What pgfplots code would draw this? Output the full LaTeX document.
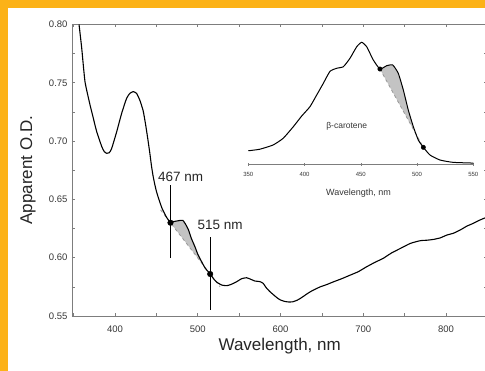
\documentclass[border=0pt]{standalone}
\usepackage{fontspec}
\setmainfont{Liberation Sans}
\usepackage{pgfplots}
\pgfplotsset{compat=1.18}
\definecolor{bgorange}{RGB}{252,178,23}
\definecolor{axgray}{RGB}{125,125,125}
\definecolor{txtgray}{RGB}{55,55,55}
\definecolor{shade}{RGB}{195,195,195}
\begin{document}
\begin{tikzpicture}[x=1pt,y=1pt]
\path[use as bounding box] (0,0) rectangle (485,371);
\fill[bgorange] (0,0) rectangle (485,371);
\fill[white] (8,0) rectangle (485,363);
\begin{scope}
\clip (8,0) rectangle (485,363);
% ---------------- main axis ----------------
\begin{axis}[at={(72pt,55pt)}, anchor=south west, scale only axis,
  width=415.4pt, height=291.5pt,
  xmin=348, xmax=850, ymin=0.55, ymax=0.80,
  xtick={400,500,600,700,800}, minor xtick={350,450,550,650,750,850},
  ytick={0.55,0.6,0.65,0.7,0.75,0.8}, minor ytick={0.575,0.625,0.675,0.725,0.775},
  tick align=inside, major tick length=3pt, minor tick length=3pt,
  axis line style={axgray, line width=0.8pt},
  every tick/.style={axgray, line width=0.6pt},
  scaled y ticks=false,
  /pgf/number format/assume math mode=true,
  yticklabel style={/pgf/number format/fixed, /pgf/number format/fixed zerofill, /pgf/number format/precision=2, xshift=-1pt},
  xticklabel style={yshift=-6pt},
  ticklabel style={font=\fontsize{9.5}{10}\selectfont, text=txtgray},
  xlabel={Wavelength, nm}, ylabel={Apparent O.D.},
  xlabel style={font=\fontsize{17}{20}\selectfont, text=black!85, at={(axis description cs:0.5,-0.102)}, anchor=center},
  ylabel style={font=\fontsize{17}{20}\selectfont, text=black!85, at={(axis description cs:-0.106,0.5)}, anchor=center, rotate=0},
  clip=true,
]
% shaded area between curve and chord
\addplot[fill=shade, draw=none] coordinates {
(467,0.630) (471,0.631) (475,0.6315) (479,0.632) (482,0.632) (485,0.629) (488.7,0.624) (492,0.617) (496.8,0.609) (500,0.603) (504.7,0.5965) (509,0.591) (515,0.586)
} -- cycle;
% dashed baseline
\addplot[gray!80, dashed, line width=0.8pt] coordinates {(455,0.641) (527,0.575)};
% spectrum
\addplot[black, line width=1.1pt, smooth, tension=0.3] coordinates {
(356.5,0.800) (359.7,0.780) (363.7,0.751) (369.8,0.731) (373.8,0.7195) (377.9,0.708) (384,0.6952) (387,0.691) (390,0.6895) (393,0.690) (396,0.6938)
(402,0.708) (408,0.7238) (414,0.7367) (418,0.741) (422,0.7424) (426,0.741) (430,0.735) (434,0.726) (437,0.714) (440,0.700) (442,0.690)
(444,0.679) (446,0.670) (448,0.663) (450,0.657) (453,0.650) (457,0.642) (462,0.635) (467,0.630)
(471,0.631) (475,0.6315) (479,0.632) (482,0.632) (485,0.629) (488.7,0.624) (492,0.617) (496.8,0.609) (500,0.603) (504.7,0.5965) (509,0.591) (515,0.586)
(519,0.582) (523,0.579) (529,0.5765) (535,0.576) (540,0.577) (547,0.5794) (553,0.582) (559,0.5828) (564,0.5815) (569,0.580) (575,0.5795) (579,0.578)
(583,0.574) (587,0.571) (591,0.5685) (596,0.5655) (600,0.5637) (605,0.5625) (610,0.562) (615,0.5622) (620,0.5635) (624,0.5651) (630,0.568) (636,0.5708)
(642,0.573) (648,0.575) (656,0.577) (664,0.5793) (674,0.582) (684,0.585) (694,0.588) (704,0.5922) (714,0.596) (724,0.5994) (734,0.604) (745,0.608)
(757,0.6123) (769,0.6146) (777,0.615) (785,0.6157) (793,0.617) (801,0.6194) (809,0.621) (817,0.6237) (825,0.627) (833,0.6295) (840,0.632) (850,0.635)
};
% vertical markers
\addplot[black, line width=0.9pt] coordinates {(467,0.5996) (467,0.6623)};
\addplot[black, line width=0.9pt] coordinates {(515,0.5553) (515,0.6180)};
% dots
\addplot[only marks, mark=*, mark size=2.8pt, black] coordinates {(467,0.630) (515,0.586)};
\node[font=\fontsize{13.5}{15}\selectfont, text=black!85] at (axis cs:479.4,0.6695) {467 nm};
\node[font=\fontsize{13.5}{15}\selectfont, text=black!85] at (axis cs:526.9,0.628) {515 nm};
\end{axis}
% ---------------- inset ----------------
\begin{axis}[at={(248.3pt,206.7pt)}, anchor=south west, scale only axis,
  width=225pt, height=122pt,
  xmin=350, xmax=550, ymin=0, ymax=1.0,
  axis x line*=bottom, axis y line=none,
  xtick={350,400,450,500,550},
  tick align=center, major tick length=3pt,
  axis line style={axgray, line width=0.8pt},
  every tick/.style={axgray, line width=0.6pt},
  /pgf/number format/assume math mode=true,
  ticklabel style={font=\fontsize{6}{7}\selectfont, text=txtgray},
  xticklabel style={yshift=-3pt},
  xlabel={Wavelength, nm},
  xlabel style={font=\fontsize{9}{10}\selectfont, text=txtgray, at={(axis description cs:0.49,-0.235)}, anchor=center},
  clip=false,
]
\addplot[fill=shade, draw=none] coordinates {
(467,0.781) (473,0.808) (478.4,0.814) (483.3,0.746) (487.8,0.609) (492.2,0.445) (496.7,0.308) (501.1,0.199) (505.6,0.139)
} -- cycle;
\addplot[gray!80, dashed, line width=0.8pt] coordinates {(467,0.781) (505.6,0.139)};
\addplot[black, line width=1.0pt, smooth, tension=0.3] coordinates {
(350,0.111) (360,0.123) (372,0.158) (381,0.213) (390,0.308) (397.5,0.396) (404.8,0.472) (410.8,0.568) (416.7,0.664) (422.6,0.762)
(428.6,0.787) (434.5,0.800) (440.4,0.869) (446.4,0.964) (450.8,1.0) (455.2,0.964) (461.1,0.855) (467,0.781) (473,0.808) (478.4,0.814)
(483.3,0.746) (487.8,0.609) (492.2,0.445) (496.7,0.308) (501.1,0.199) (505.6,0.139) (511.5,0.076) (520.4,0.035) (532,0.016) (550,0.010)
};
\addplot[only marks, mark=*, mark size=2.2pt, black] coordinates {(467,0.781) (505.6,0.139)};
\node[font=\fontsize{8.5}{10}\selectfont, text=txtgray] at (axis cs:437.5,0.308) {β-carotene};
\end{axis}
\end{scope}
\end{tikzpicture}
\end{document}
